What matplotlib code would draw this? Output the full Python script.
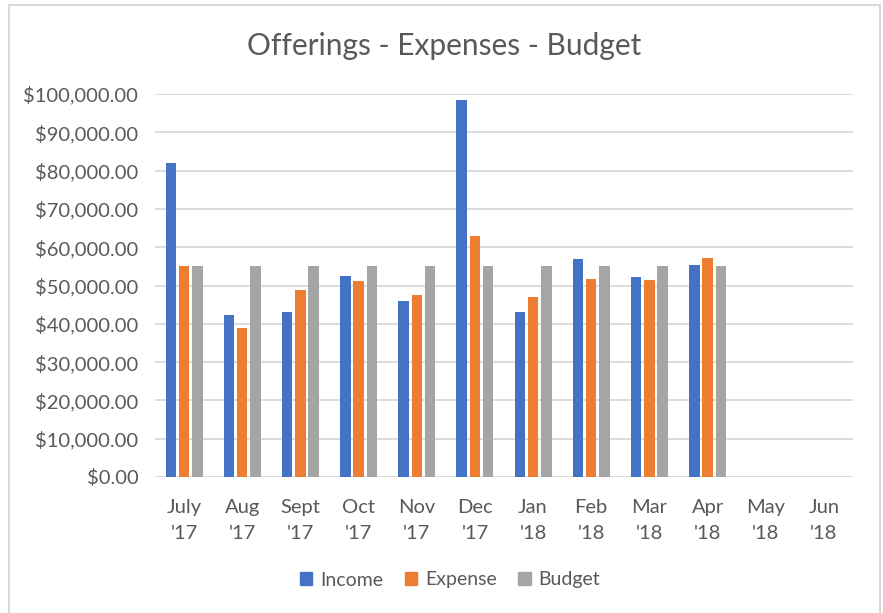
import matplotlib.pyplot as plt
import numpy as np
from matplotlib.patches import Patch, Rectangle
from matplotlib.ticker import FuncFormatter

# === DATA ===

months = ["July\n'17", "Aug\n'17", "Sept\n'17", "Oct\n'17", "Nov\n'17", "Dec\n'17",
          "Jan\n'18", "Feb\n'18", "Mar\n'18", "Apr\n'18", "May\n'18", "Jun\n'18"]
income = [82000, 42300, 43200, 52400, 46000, 98400, 43000, 56900, 52300, 55400, np.nan, np.nan]
expense = [55000, 38800, 48700, 51100, 47500, 63000, 46900, 51700, 51500, 57200, np.nan, np.nan]
budget = [55000, 55000, 55000, 55000, 55000, 55000, 55000, 55000, 55000, 55000, np.nan, np.nan]

series = [("Income", income, "#4472C4"),
          ("Expense", expense, "#ED7D31"),
          ("Budget", budget, "#A5A5A5")]

TEXT = "#595959"
plt.rcParams["font.family"] = ["Lato", "DejaVu Sans"]

fig = plt.figure(figsize=(8.83, 6.13), dpi=100)
ax = fig.add_axes([155 / 883, 136 / 613, 698 / 883, 383 / 613])

x = np.arange(len(months))
pitch = 0.227
for i, (name, vals, color) in enumerate(series):
    ax.bar(x + (i - 1) * pitch, vals, width=0.18, color=color, label=name, zorder=3)

ax.set_xlim(-0.5, len(months) - 0.5)
ax.set_ylim(0, 100000)
ax.set_yticks(np.arange(0, 100001, 10000))
ax.yaxis.set_major_formatter(FuncFormatter(lambda v, _: f"${v:,.2f}"))
ax.set_xticks(x)
ax.set_xticklabels(months, linespacing=1.65)
ax.tick_params(axis="both", length=0, labelsize=14.5, labelcolor=TEXT)
ax.tick_params(axis="y", pad=12)
ax.tick_params(axis="x", pad=16)
ax.grid(axis="y", color="#D9D9D9", linewidth=1.3, zorder=0)
for spine in ax.spines.values():
    spine.set_visible(False)

fig.text(444 / 883, 1 - 46 / 613, "Offerings - Expenses - Budget",
         ha="center", va="center", fontsize=21.5, color=TEXT)

handles = [Patch(color=c, label=n) for n, _, c in series]
fig.legend(handles=handles, loc="center", bbox_to_anchor=(450 / 883, 1 - 580 / 613),
           ncol=3, frameon=False, fontsize=14, labelcolor=TEXT,
           handlelength=0.65, handleheight=0.65, handletextpad=0.4, columnspacing=1.1)

# chart border
fig.patches.append(Rectangle((9 / 883, -0.01), 871 / 883, 1.01 - 5 / 613,
                             transform=fig.transFigure, fill=False,
                             edgecolor="#D9D9D9", linewidth=1.5))

fig.savefig("out.png", dpi=100, facecolor="white")
